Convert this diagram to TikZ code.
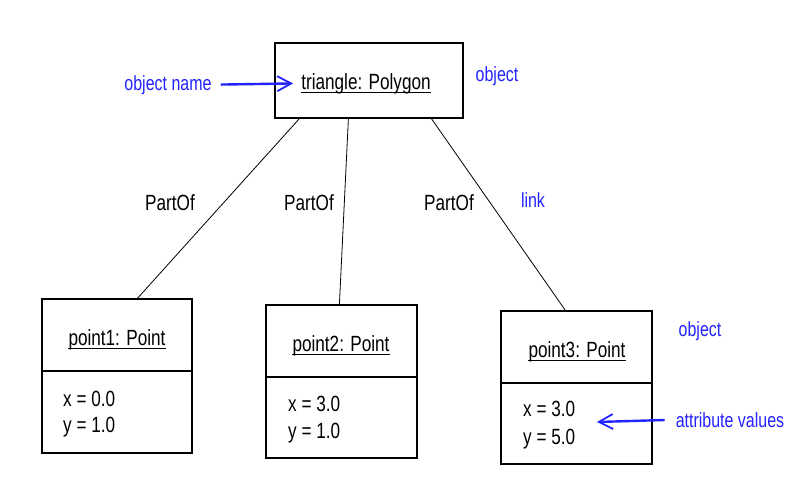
\documentclass[tikz,border=0pt]{standalone}
\usepackage{fontspec}
\setmainfont[FakeStretch=0.78]{Liberation Sans}
\usetikzlibrary{arrows.meta}
\definecolor{ublue}{RGB}{35,35,255}
\begin{document}
\begin{tikzpicture}[x=1pt,y=-1pt,
  umlbox/.style={draw, line width=1.2pt, inner sep=0pt, minimum width=#1},
  txt/.style={font=\fontsize{22}{26}\selectfont, inner sep=0pt},
  note/.style={font=\fontsize{20.5}{24}\selectfont, inner sep=0pt, text=ublue},
  conn/.style={line width=0.8pt},
  uline/.style={line width=1pt},
  barrow/.style={draw=ublue, line width=2.4pt, -{Straight Barb[length=14pt,width=15pt,line width=1.8pt]}}
]
\useasboundingbox[fill=white] (0,0) rectangle (812,496);

% boxes
\node[umlbox=188pt, minimum height=75pt] (tri) at (369,80.5) {};
\node[umlbox=150pt, minimum height=72pt] (p1top) at (117,335) {};
\node[umlbox=150pt, minimum height=82pt] (p1bot) at (117,412) {};
\node[umlbox=151pt, minimum height=72pt] (p2top) at (341.5,341) {};
\node[umlbox=151pt, minimum height=81pt] (p2bot) at (341.5,417.5) {};
\node[umlbox=151pt, minimum height=72pt] (p3top) at (576.5,347) {};
\node[umlbox=151pt, minimum height=81pt] (p3bot) at (576.5,423.5) {};

% object names
\node[txt, anchor=base] (trilbl) at (366,89) {triangle: Polygon};
\node[txt, anchor=base] (l1) at (117,345) {point1: Point};
\node[txt, anchor=base] (l2) at (341,351) {point2: Point};
\node[txt, anchor=base] (l3) at (577,357) {point3: Point};
\foreach \n in {trilbl,l1,l2,l3}
  \draw[uline] ([yshift=-3pt]\n.base west) -- ([yshift=-3pt]\n.base east);

% attribute values
\node[txt, anchor=base west] (v1x) at (63,406) {x = 0.0};
\node[txt, anchor=base west] (v1y) at (63,432) {y = 1.0};
\node[txt, anchor=base west] (v2x) at (288,411) {x = 3.0};
\node[txt, anchor=base west] (v2y) at (288,438) {y = 1.0};
\node[txt, anchor=base west] (v3x) at (523,416) {x = 3.0};
\node[txt, anchor=base west] (v3y) at (523,444) {y = 5.0};

% links
\draw[conn] ([xshift=25pt]tri.south west) -- ([xshift=96pt]p1top.north west);
\draw[conn] ([xshift=74pt]tri.south west) -- ([xshift=74pt]p2top.north west);
\draw[conn] ([xshift=157pt]tri.south west) -- ([xshift=65pt]p3top.north west);

\node[txt, anchor=base] (po1) at (170,210) {PartOf};
\node[txt, anchor=base] (po2) at (309,210) {PartOf};
\node[txt, anchor=base] (po3) at (449,210) {PartOf};

% annotations
\node[note, anchor=base] (link) at (533,207) {link};
\node[note, anchor=base] (obj1) at (497,81) {object};
\node[note, anchor=base] (obj2) at (700,336) {object};
\node[note, anchor=base] (objname) at (168,90) {object name};
\node[note, anchor=base] (attr) at (730,427) {attribute values};
\coordinate (attrtip) at (597,422);

\draw[barrow, shorten <=9pt, shorten >=8pt] (objname.east) -- (trilbl.west);
\draw[barrow, shorten <=11pt] (attr.west) -- (attrtip);
\end{tikzpicture}
\end{document}
